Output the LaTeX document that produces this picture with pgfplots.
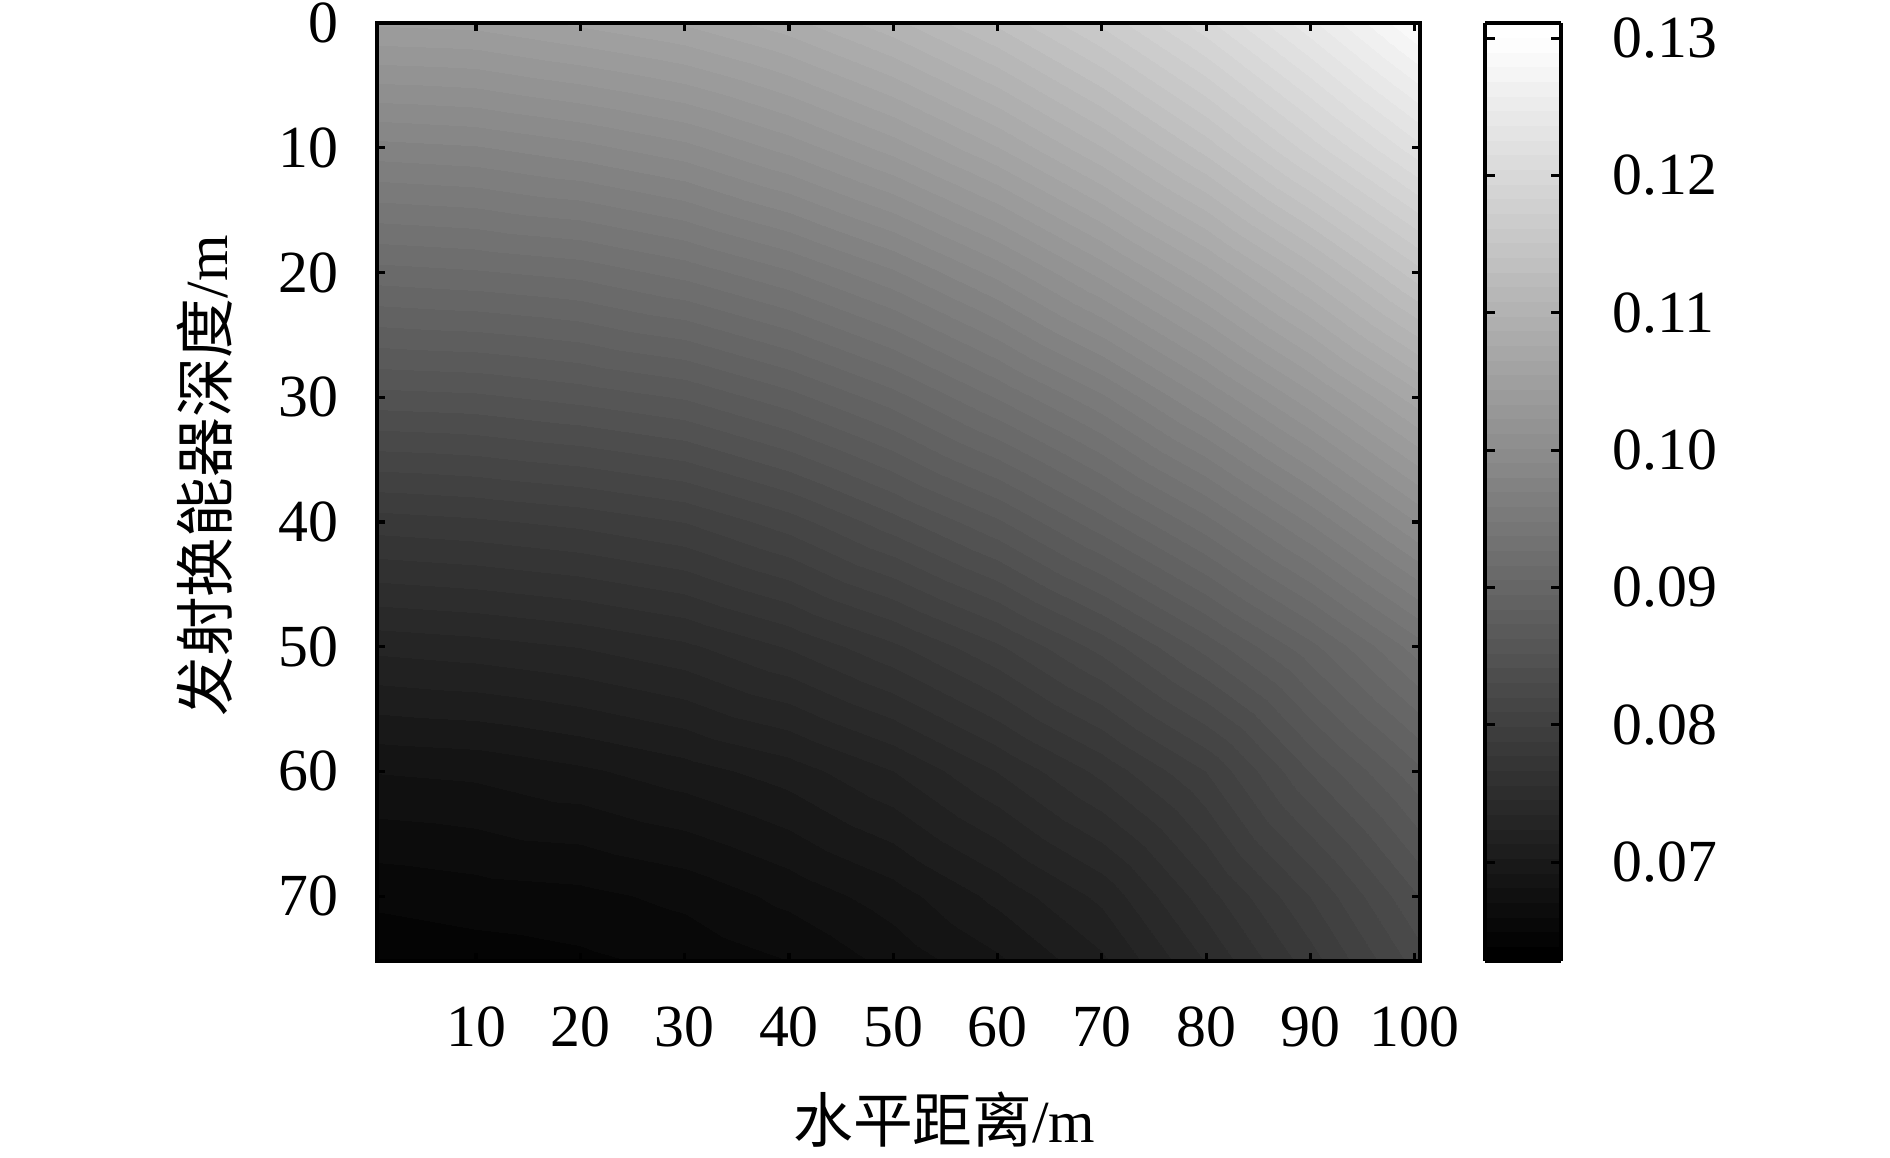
\documentclass[border=0pt]{standalone}
\usepackage{pgfplots}
\pgfplotsset{compat=1.18}
\usepackage{fontspec}
\setmainfont{Liberation Serif}
\newfontfamily\cjk{Noto Sans CJK SC}

\pgfplotsset{
    colormap={bw}{gray(0cm)=(0); gray(1cm)=(1)},
    colormap={gray64}{samples of colormap=(64 of bw)},
}

\begin{document}
\begin{tikzpicture}
\begin{axis}[
    name=ax,
    scale only axis,
    width=10.43cm, height=9.38cm,
    xmin=0.5, xmax=100.5,
    ymin=0, ymax=75.2,
    y dir=reverse,
    axis on top,
    axis line style={line width=0.9pt},
    every tick/.style={black, line width=0.9pt},
    major tick length=0.08cm,
    tick align=inside,
    xtick={10,20,...,100},
    ytick={0,10,...,70},
    xticklabel shift=0.33cm,
    yticklabel shift=0.26cm,
    /pgf/number format/assume math mode=true,
    tick label style={font=\fontsize{17}{20}\selectfont},
    label style={font=\fontsize{17}{20}\selectfont},
    xlabel={{\cjk 水平距离}/m},
    ylabel={{\cjk 发射换能器深度}/m},
    xlabel style={at={(axis description cs:0.544,-0.169)}, anchor=center},
    ylabel style={at={(axis description cs:-0.165,0.517)}, anchor=center},
    colormap name=gray64,
    colormap access=piecewise constant,
    point meta min=0.0628, point meta max=0.1311,
    colorbar,
    colorbar style={
        at={(parent axis.north east)}, anchor=north west, xshift=0.35cm,
        width=0.76cm,
        ytick={0.07,0.08,0.09,0.10,0.11,0.12,0.13},
        ytick pos=both, yticklabel pos=right,
        tick align=inside,
        major tick length=0.1cm,
        yticklabel shift=0.39cm,
        axis line style={line width=0.9pt},
        every tick/.style={black, line width=0.9pt},
        /pgf/number format/assume math mode=true,
        yticklabel style={font=\fontsize{17}{20}\selectfont,
            /pgf/number format/.cd, fixed, fixed zerofill, precision=2},
    },
]
\addplot[surf, shader=interp, mesh/cols=11, point meta=\thisrow{v}] table {
x y v
0.5 0 0.1046
10 0 0.1048
20 0 0.1057
30 0 0.1067
40 0 0.1083
50 0 0.1105
60 0 0.1132
70 0 0.1164
80 0 0.1201
90 0 0.1244
100.5 0 0.1292
0.5 10 0.0976
10 10 0.0979
20 10 0.0987
30 10 0.0998
40 10 0.1016
50 10 0.1038
60 10 0.1065
70 10 0.1097
80 10 0.1134
90 10 0.1177
100.5 10 0.1223
0.5 20 0.0912
10 20 0.0915
20 20 0.0920
30 20 0.0931
40 20 0.0947
50 20 0.0968
60 20 0.0995
70 20 0.1027
80 20 0.1062
90 20 0.1102
100.5 20 0.1148
0.5 30 0.0848
10 30 0.0850
20 30 0.0856
30 30 0.0864
40 30 0.0880
50 30 0.0901
60 30 0.0928
70 30 0.0957
80 30 0.0992
90 30 0.1030
100.5 30 0.1073
0.5 40 0.0783
10 40 0.0786
20 40 0.0791
30 40 0.0799
40 40 0.0815
50 40 0.0837
60 40 0.0861
70 40 0.0891
80 40 0.0923
90 40 0.0960
100.5 40 0.1003
0.5 50 0.0727
10 50 0.0730
20 50 0.0735
30 50 0.0743
40 50 0.0757
50 50 0.0775
60 50 0.0797
70 50 0.0824
80 50 0.0856
90 50 0.0891
100.5 50 0.0933
0.5 60 0.0682
10 60 0.0684
20 60 0.0690
30 60 0.0698
40 60 0.0708
50 60 0.0724
60 60 0.0746
70 60 0.0770
80 60 0.0799
90 60 0.0842
100.5 60 0.0882
0.5 70 0.0652
10 70 0.0655
20 70 0.0657
30 70 0.0663
40 70 0.0674
50 70 0.0687
60 70 0.0706
70 70 0.0727
80 70 0.0762
90 70 0.0799
100.5 70 0.0842
0.5 75.2 0.0641
10 75.2 0.0644
20 75.2 0.0647
30 75.2 0.0652
40 75.2 0.0660
50 75.2 0.0674
60 75.2 0.0690
70 75.2 0.0711
80 75.2 0.0746
90 75.2 0.0783
100.5 75.2 0.0826
};
\end{axis}
\pgfresetboundingbox
\path[use as bounding box] ([shift={(-3.77cm,-1.96cm)}]ax.south west) rectangle ([shift={(4.70cm,0.23cm)}]ax.north east);
\end{tikzpicture}
\end{document}
